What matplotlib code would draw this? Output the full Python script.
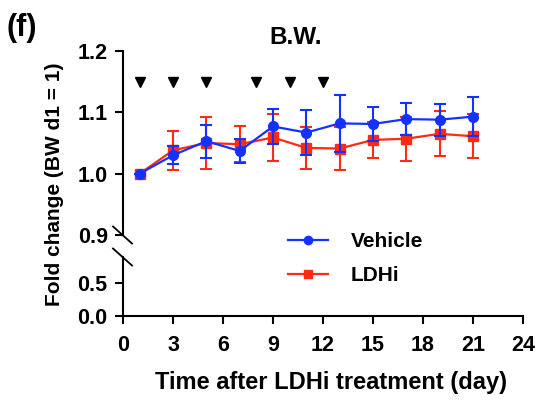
import matplotlib
matplotlib.use("Agg")
import matplotlib.pyplot as plt
from matplotlib.lines import Line2D

plt.rcParams['font.family'] = ['Liberation Sans', 'DejaVu Sans']
plt.rcParams['font.weight'] = 'bold'

days = [1, 3, 5, 7, 9, 11, 13, 15, 17, 19, 21]
vehicle = [1.000, 1.030, 1.053, 1.037, 1.077, 1.067, 1.082, 1.081, 1.089, 1.088, 1.093]
vehicle_err = [0.0, 0.015, 0.027, 0.020, 0.029, 0.036, 0.046, 0.028, 0.026, 0.026, 0.032]
ldhi = [1.000, 1.038, 1.050, 1.048, 1.059, 1.042, 1.041, 1.055, 1.057, 1.065, 1.061]
ldhi_err = [0.0, 0.032, 0.042, 0.029, 0.038, 0.034, 0.035, 0.030, 0.036, 0.037, 0.036]
dose_days = [1, 3, 5, 8, 10, 12]
dose_level = 1.15
xticks = [0, 3, 6, 9, 12, 15, 18, 21, 24]
upper_yticks = [0.9, 1.0, 1.1, 1.2]
lower_yticks = [0.0, 0.5]

BLUE = '#1432ff'
RED = '#ff2a14'

W, H = 543, 405
fig = plt.figure(figsize=(W / 100, H / 100), dpi=100)

def fx(px):
    return px / W

def fy(py):
    return 1 - py / H

left, right = 123, 523
up_top, up_bot = 51, 235
lo_top, lo_bot = 257, 316

ax_up = fig.add_axes([fx(left), fy(up_bot), fx(right) - fx(left), fy(up_top) - fy(up_bot)])
ax_lo = fig.add_axes([fx(left), fy(lo_bot), fx(right) - fx(left), fy(lo_top) - fy(lo_bot)])

lw_sp = 1.5
for ax in (ax_up, ax_lo):
    ax.set_xlim(0, 24)
    for s in ('top', 'right'):
        ax.spines[s].set_visible(False)
    ax.spines['left'].set_linewidth(lw_sp)
    ax.spines['bottom'].set_linewidth(lw_sp)
    ax.tick_params(axis='both', width=lw_sp, length=6, labelsize=15.5, pad=5)

ax_up.spines['bottom'].set_visible(False)
ax_up.set_ylim(0.9, 1.2)
ax_up.set_yticks(upper_yticks)
ax_up.set_yticklabels([f"{v:.1f}" for v in upper_yticks], fontweight='bold')
ax_up.set_xticks([])

ax_lo.set_ylim(0, 0.9)
ax_lo.set_yticks(lower_yticks)
ax_lo.set_yticklabels([f"{v:.1f}" for v in lower_yticks], fontweight='bold')
ax_lo.set_xticks(xticks)
ax_lo.set_xticklabels([str(v) for v in xticks], fontweight='bold')
ax_lo.tick_params(axis='x', pad=8)

# data
ax_up.errorbar(days, ldhi, yerr=ldhi_err, color=RED, marker='s', markersize=6.5,
               linewidth=1.6, elinewidth=1.5, capsize=4.5, capthick=1.5, zorder=3,
               clip_on=False)
ax_up.errorbar(days, vehicle, yerr=vehicle_err, color=BLUE, marker='o', markersize=7,
               linewidth=1.6, elinewidth=1.5, capsize=4.5, capthick=1.5, zorder=4,
               clip_on=False)
ax_up.plot(dose_days, [dose_level] * len(dose_days), linestyle='none', marker='v',
           color='black', markersize=7)

# break marks
def brk(cy):
    fig.add_artist(Line2D([fx(113), fx(132)], [fy(cy - 8.5), fy(cy + 8.5)],
                          color='black', linewidth=1.3))
brk(up_bot)
brk(lo_top)

# texts
fig.text(fx(296), fy(37), 'B.W.', ha='center', va='center', fontsize=17.5, fontweight='bold')
fig.text(fx(22), fy(28), '(f)', ha='center', va='center', fontsize=22, fontweight='bold')
fig.text(fx(55), fy(184), 'Fold change (BW d1 = 1)', ha='center', va='center',
         rotation=90, fontsize=15, fontweight='bold')
fig.text(fx(331), fy(382), 'Time after LDHi treatment (day)', ha='center', va='center',
         fontsize=17, fontweight='bold')

handles = [Line2D([], [], color=BLUE, marker='o', markersize=6, linewidth=1.6),
           Line2D([], [], color=RED, marker='s', markersize=6, linewidth=1.6)]
fig.legend(handles, ['Vehicle', 'LDHi'], loc='upper left',
           bbox_to_anchor=(fx(278), fy(222)), frameon=False, borderpad=0,
           handlelength=1.9, handletextpad=1.1, labelspacing=0.72,
           prop={'size': 15, 'weight': 'bold'})

fig.savefig('out.png', dpi=100)
